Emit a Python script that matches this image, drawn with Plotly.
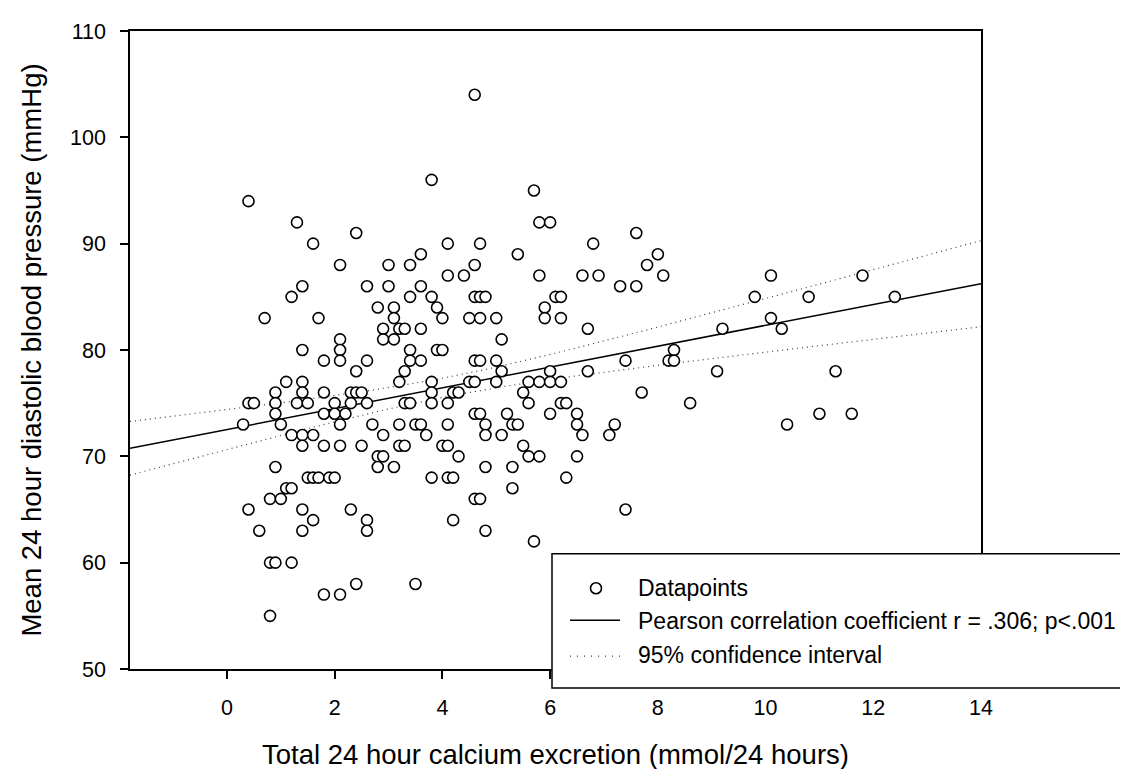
import numpy as np
import plotly.graph_objects as go

# ---- data (one line per diastolic-pressure level) ----
calcium = [
    4.6,                                                         # 104
    3.8,                                                         # 96
    5.7,                                                         # 95
    0.4,                                                         # 94
    1.3, 5.8, 6.0,                                               # 92
    2.4, 7.6,                                                    # 91
    1.6, 4.1, 4.7, 6.8,                                          # 90
    3.6, 5.4, 8.0,                                               # 89
    2.1, 3.0, 3.4, 4.6, 7.8,                                     # 88
    4.1, 4.4, 5.8, 6.6, 6.9, 8.1, 10.1, 11.8,                    # 87
    1.4, 2.6, 3.0, 3.6, 7.3, 7.6,                                # 86
    1.2, 3.4, 3.8, 4.6, 4.7, 4.8, 6.1, 6.2, 9.8, 10.8, 12.4,     # 85
    2.8, 3.1, 3.9, 5.9,                                          # 84
    0.7, 1.7, 3.1, 4.0, 4.5, 4.7, 5.0, 5.9, 6.2, 10.1,           # 83
    2.9, 3.2, 3.3, 3.6, 6.7, 9.2, 10.3,                          # 82
    2.1, 2.9, 3.1, 5.1,                                          # 81
    1.4, 2.1, 3.4, 3.9, 4.0, 8.3,                                # 80
    1.8, 2.1, 2.6, 3.4, 3.6, 4.6, 4.7, 5.0, 7.4, 8.2, 8.3,       # 79
    2.4, 3.3, 5.1, 6.0, 6.7, 9.1, 11.3,                          # 78
    1.1, 1.4, 3.2, 3.8, 4.5, 4.6, 5.0, 5.6, 5.8, 6.0, 6.2,       # 77
    0.9, 1.4, 1.8, 2.3, 2.4, 2.5, 3.8, 4.2, 4.3, 5.5, 7.7,       # 76
    0.4, 0.5, 0.9, 1.3, 1.5, 2.0, 2.3, 2.6, 3.3, 3.4, 3.8, 4.1, 5.6, 6.2, 6.3, 8.6,  # 75
    0.9, 1.8, 2.0, 2.2, 4.6, 4.7, 5.2, 6.0, 6.5, 11.0, 11.6,     # 74
    0.3, 1.0, 2.1, 2.7, 3.2, 3.5, 3.6, 4.1, 4.8, 5.3, 5.4, 6.5, 7.2, 10.4,  # 73
    1.2, 1.4, 1.6, 2.9, 3.7, 4.8, 5.1, 6.6, 7.1,                 # 72
    1.4, 1.8, 2.1, 2.5, 3.2, 3.3, 4.0, 4.1, 5.5,                 # 71
    2.8, 2.9, 4.3, 5.6, 5.8, 6.5,                                # 70
    0.9, 2.8, 3.1, 4.8, 5.3,                                     # 69
    1.5, 1.6, 1.7, 1.9, 2.0, 3.8, 4.1, 4.2, 6.3,                 # 68
    1.1, 1.2, 5.3,                                               # 67
    0.8, 1.0, 4.6, 4.7,                                          # 66
    0.4, 1.4, 2.3, 7.4,                                          # 65
    1.6, 2.6, 4.2,                                               # 64
    0.6, 1.4, 2.6, 4.8,                                          # 63
    5.7,                                                         # 62
    0.8, 0.9, 1.2,                                               # 60
    2.4, 3.5,                                                    # 58
    1.8, 2.1,                                                    # 57
    0.8,                                                         # 55
]
dbp = [
    104,
    96,
    95,
    94,
    92, 92, 92,
    91, 91,
    90, 90, 90, 90,
    89, 89, 89,
    88, 88, 88, 88, 88,
    87, 87, 87, 87, 87, 87, 87, 87,
    86, 86, 86, 86, 86, 86,
    85, 85, 85, 85, 85, 85, 85, 85, 85, 85, 85,
    84, 84, 84, 84,
    83, 83, 83, 83, 83, 83, 83, 83, 83, 83,
    82, 82, 82, 82, 82, 82, 82,
    81, 81, 81, 81,
    80, 80, 80, 80, 80, 80,
    79, 79, 79, 79, 79, 79, 79, 79, 79, 79, 79,
    78, 78, 78, 78, 78, 78, 78,
    77, 77, 77, 77, 77, 77, 77, 77, 77, 77, 77,
    76, 76, 76, 76, 76, 76, 76, 76, 76, 76, 76,
    75, 75, 75, 75, 75, 75, 75, 75, 75, 75, 75, 75, 75, 75, 75, 75,
    74, 74, 74, 74, 74, 74, 74, 74, 74, 74, 74,
    73, 73, 73, 73, 73, 73, 73, 73, 73, 73, 73, 73, 73, 73,
    72, 72, 72, 72, 72, 72, 72, 72, 72,
    71, 71, 71, 71, 71, 71, 71, 71, 71,
    70, 70, 70, 70, 70, 70,
    69, 69, 69, 69, 69,
    68, 68, 68, 68, 68, 68, 68, 68, 68,
    67, 67, 67,
    66, 66, 66, 66,
    65, 65, 65, 65,
    64, 64, 64,
    63, 63, 63, 63,
    62,
    60, 60, 60,
    58, 58,
    57, 57,
    55,
]

# regression line and its 95% confidence band
fit_intercept = 72.52
fit_slope = 0.98
ci_center_x = 4.1
ci_half_min = 0.9
ci_spread = 0.159
x_range = [-1.8, 14.0]

x_ticks = [0, 2, 4, 6, 8, 10, 12, 14]
y_ticks = [50, 60, 70, 80, 90, 100, 110]

legend_labels = [
    "Datapoints",
    "Pearson correlation coefficient r = .306; p<.001",
    "95% confidence interval",
]
x_title = "Total 24 hour calcium excretion (mmol/24 hours)"
y_title = "Mean 24 hour diastolic blood pressure (mmHg)"

assert len(calcium) == len(dbp)

FONT = "Liberation Sans, Arial, sans-serif"

xf = np.linspace(x_range[0], x_range[1], 300)
yf = fit_intercept + fit_slope * xf
half = np.sqrt(ci_half_min ** 2 + ci_spread * (xf - ci_center_x) ** 2)

fig = go.Figure()
dot_style = dict(color="#3c3c3c", width=1.2, dash="1px,4px")
fig.add_trace(go.Scatter(x=xf, y=yf + half, mode="lines", line=dot_style,
                         name=legend_labels[2], showlegend=False, hoverinfo="skip"))
fig.add_trace(go.Scatter(x=xf, y=yf - half, mode="lines", line=dot_style,
                         name=legend_labels[2], showlegend=False, hoverinfo="skip"))
fig.add_trace(go.Scatter(x=xf, y=yf, mode="lines",
                         line=dict(color="black", width=1.5),
                         name=legend_labels[1], showlegend=False, hoverinfo="skip"))
fig.add_trace(go.Scatter(x=calcium, y=dbp, mode="markers", name=legend_labels[0],
                         marker=dict(symbol="circle", size=11, color="white",
                                     line=dict(color="black", width=1.6)),
                         showlegend=False))

W, H = 1128, 769
ML, MR, MT, MB = 122, 155, 21, 108
PW, PH = W - ML - MR, H - MT - MB


def px(xp):
    return (xp - ML) / PW


def py(yp):
    return (H - MB - yp) / PH


axis_common = dict(
    showline=True, linecolor="black", linewidth=1.5, mirror=True,
    ticks="outside", ticklen=8, tickwidth=1.5, tickcolor="black",
    showgrid=False, zeroline=False,
    tickfont=dict(family=FONT, size=21.5, color="black"),
)

fig.update_layout(
    width=W, height=H,
    margin=dict(l=ML, r=MR, t=MT, b=MB),
    paper_bgcolor="white", plot_bgcolor="white",
    font=dict(family=FONT, color="black"),
    xaxis=dict(range=x_range, tickvals=x_ticks, ticklabelstandoff=10,
               title=dict(text=x_title, font=dict(family=FONT, size=27.5), standoff=26),
               **axis_common),
    yaxis=dict(range=[y_ticks[0], y_ticks[-1]], tickvals=y_ticks, ticklabelstandoff=10,
               title=dict(text=y_title, font=dict(family=FONT, size=27.5), standoff=20),
               **axis_common),
    showlegend=False,
)

# ---- legend box (drawn on top, partly outside the plot as in the original) ----
shapes = [
    dict(type="rect", xref="paper", yref="paper", x0=px(544), x1=1.5,
         y0=py(680), y1=py(545.5), fillcolor="white",
         line=dict(color="black", width=1.5), layer="above"),
    dict(type="circle", xref="paper", yref="paper", xsizemode="pixel", ysizemode="pixel",
         xanchor=px(588), yanchor=py(580), x0=-5.5, x1=5.5, y0=-5.5, y1=5.5,
         fillcolor="white", line=dict(color="black", width=1.6), layer="above"),
    dict(type="line", xref="paper", yref="paper", x0=px(562), x1=px(612),
         y0=py(612), y1=py(612), line=dict(color="black", width=1.5), layer="above"),
    dict(type="line", xref="paper", yref="paper", x0=px(562), x1=px(612),
         y0=py(648), y1=py(648), line=dict(color="#3c3c3c", width=1.2, dash="1px,6px"),
         layer="above"),
]
fig.update_layout(shapes=shapes)

for label, yrow in zip(legend_labels, [580, 613, 647]):
    fig.add_annotation(text=label, xref="paper", yref="paper", x=px(628), y=py(yrow),
                       xanchor="left", yanchor="middle", showarrow=False,
                       font=dict(family=FONT, size=23, color="black"))

fig.write_html("out.html")
